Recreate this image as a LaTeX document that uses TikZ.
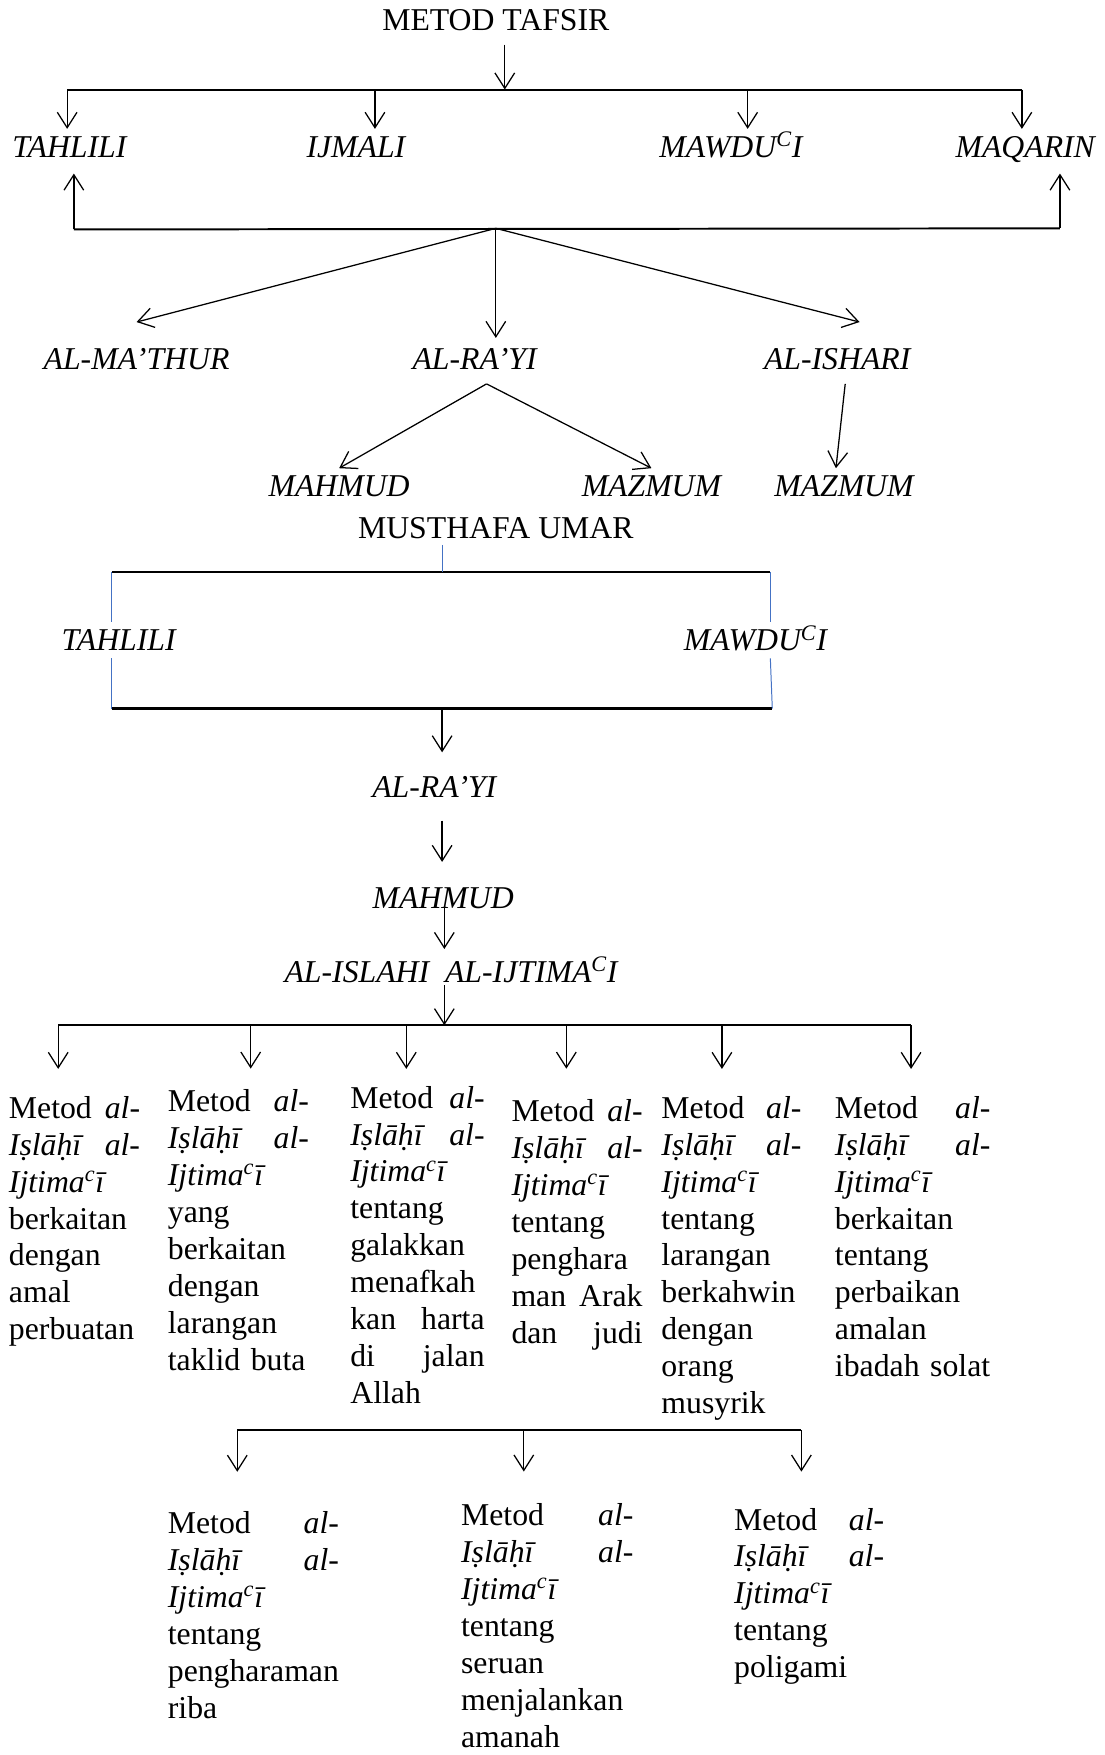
\documentclass[tikz,border=0pt]{standalone}
\usepackage{fontspec}
\setmainfont{Liberation Serif}
\usetikzlibrary{arrows.meta}
\definecolor{wordblue}{RGB}{68,114,196}
\newcommand{\metodhead}{Metod\hfill\textit{al-}\\\textit{Iṣlāḥī}\hfill\textit{al-}\\\textit{Ijtima\textsuperscript{c}ī}}
\begin{document}
\begin{tikzpicture}[->,>={Straight Barb[length=11pt,width=14pt]},line width=0.9pt,x=0.028cm,y=-0.028cm,
    main node/.style={inner sep=0pt,outer sep=0pt,text height=15pt,text depth=0pt,font=\fontsize{22.6}{26.3}\selectfont},
    label node/.style={main node,font=\fontsize{22.6}{26.3}\selectfont\itshape},
    box node/.style={inner sep=0pt,outer sep=0pt,anchor=base west,align=left,font=\fontsize{22.6}{26.3}\selectfont},
    bar/.style={-,line width=1.4pt},
    blue line/.style={-,line width=0.7pt,draw=wordblue}]
  \useasboundingbox (0,0) rectangle (987,1568);
  % METOD TAFSIR
  \node[main node] (1) at (443,18) {METOD TAFSIR};
  \node[label node] (2) at (62,131) {TAHLILI};
  \node[label node] (3) at (318,131) {IJMALI};
  \node[label node] (4) at (653,131) {MAWDU\textsuperscript{C}I};
  \node[label node] (5) at (916,131) {MAQARIN};
  \node[label node] (6) at (122,321) {AL-MA’THUR};
  \node[label node] (7) at (424,321) {AL-RA’YI};
  \node[label node] (8) at (748,321) {AL-ISHARI};
  \node[label node] (9) at (303,434) {MAHMUD};
  \node[label node] (10) at (582,434) {MAZMUM};
  \node[label node] (11) at (754,434) {MAZMUM};
  % MUSTHAFA UMAR
  \node[main node] (12) at (443,472) {MUSTHAFA UMAR};
  \node[label node] (13) at (106,572) {TAHLILI};
  \node[label node] (14) at (675,572) {MAWDU\textsuperscript{C}I};
  \node[label node] (15) at (388,703) {AL-RA’YI};
  \node[label node] (16) at (396,802) {MAHMUD};
  \node[label node] (17) at (403,868) {AL-ISLAHI\ \ AL-IJTIMA\textsuperscript{C}I};
  % methods
  \node[box node,text width=3.28cm] (18) at (8,999) {\metodhead\\berkaitan\\dengan\\amal\\perbuatan};
  \node[box node,text width=3.53cm] (19) at (150,993) {\metodhead\\yang\\berkaitan\\dengan\\larangan\\taklid buta};
  \node[box node,text width=3.36cm] (20) at (313,990) {\metodhead\\tentang\\galakkan\\menafkah\\kan\hfill harta\\di\hfill jalan\\Allah};
  \node[box node,text width=3.28cm] (21) at (457,1002) {\metodhead\\tentang\\penghara\\man\hfill Arak\\dan\hfill judi};
  \node[box node,text width=3.50cm] (22) at (591,999) {\metodhead\\tentang\\larangan\\berkahwin\\dengan\\orang\\musyrik};
  \node[box node,text width=3.89cm] (23) at (746,999) {\metodhead\\berkaitan\\tentang\\perbaikan\\amalan\\ibadah solat};
  \node[box node,text width=4.28cm] (24) at (150,1370) {\metodhead\\tentang\\pengharaman\\riba};
  \node[box node,text width=4.31cm] (25) at (412,1363) {\metodhead\\tentang\\seruan\\menjalankan\\amanah};
  \node[box node,text width=3.75cm] (26) at (656,1367) {\metodhead\\tentang\\poligami};

  % bars
  \foreach \x [count=\i] in {60,335,668,913} \coordinate (b1\i) at (\x,80);
  \coordinate (b1c) at (451,80);
  \coordinate (b21) at (66,205); \coordinate (b2c) at (443,204); \coordinate (b22) at (947,204);
  \coordinate (b31) at (100,511); \coordinate (b3c) at (395,511); \coordinate (b32) at (688,511);
  \coordinate (b41) at (100,633); \coordinate (b4c) at (395,633); \coordinate (b42) at (690,633);
  \foreach \x [count=\i] in {52,224,363,506,645,814} \coordinate (b5\i) at (\x,916);
  \coordinate (b5c) at (397,916);
  \foreach \x [count=\i] in {212,468,716} \coordinate (b6\i) at (\x,1278);
  \draw[bar] (b11) -- (b14);
  \draw[bar] (b21) -- (b22);
  \draw[bar,line width=1.6pt] (b31) -- (b32);
  \draw[bar,line width=1.6pt] (b41) -- (b42);
  \draw[bar] (b51) -- (b56);
  \draw[bar] (b61) -- (b63);

  % top arrows
  \draw[shorten <=0.35cm] (1.south -| b1c) -- (b1c);
  \foreach \p/\n in {b11/2,b12/3,b13/4,b14/5} \draw[shorten >=0.18cm] (\p) -- (\p |- \n.north);
  \foreach \p/\n in {b21/2,b22/5} \draw[shorten >=0.41cm] (\p) -- (\p |- \n.south);
  \draw (b2c) -- ([yshift=19pt]6.north);
  \draw[shorten >=0.27cm] (b2c) -- (b2c |- 7.north);
  \draw (b2c) -- ([xshift=0.56cm,yshift=19pt]8.north);
  \draw ([xshift=0.3cm,yshift=-10pt]7.south) -- ([yshift=5pt]9.north);
  \draw ([xshift=0.3cm,yshift=-10pt]7.south) -- ([yshift=5pt]10.north);
  \draw ([xshift=0.2cm,yshift=-10pt]8.south) -- ([xshift=-0.2cm,yshift=5pt]11.north);

  % blue lines
  \draw[blue line,shorten <=0.15cm] (12.south -| b3c) -- (b3c);
  \foreach \p/\q/\n in {b31/b41/13,b32/b42/14} {
    \draw[blue line,shorten >=0.2cm] (\p) -- (\p |- \n.north);
    \draw[blue line,shorten <=0.19cm] (\p |- \n.south) -- (\q);
  }

  % chain
  \draw[shorten >=0.6cm] (b4c) -- (b4c |- 15.north);
  \draw[shorten <=0.58cm,shorten >=0.63cm] (b4c |- 15.south) -- (b4c |- 16.north);
  \draw[shorten >=0.3cm] (b5c |- 16.south) -- (b5c |- 17.north);
  \draw[shorten <=0.08cm] (b5c |- 17.south) -- (b5c);

  % method arrows
  \foreach \i/\n/\s in {1/18/0.68,2/19/0.52,3/20/0.43,4/21/0.77,5/22/0.68,6/23/0.68}
    \draw[shorten >=\s cm] (b5\i) -- (b5\i |- \n.north);
  \foreach \i/\n/\s in {1/24/0.99,2/25/0.80,3/26/0.91}
    \draw[shorten >=\s cm] (b6\i) -- (b6\i |- \n.north);
\end{tikzpicture}
\end{document}
